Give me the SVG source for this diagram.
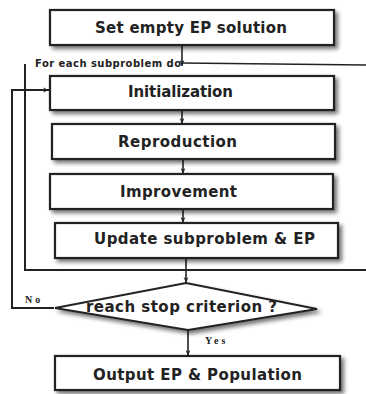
<svg xmlns="http://www.w3.org/2000/svg" width="366" height="394" viewBox="0 0 366 394">
<defs>
<filter id="sh" x="-10%" y="-20%" width="125%" height="160%">
<feGaussianBlur in="SourceAlpha" stdDeviation="2"/>
<feOffset dx="3" dy="3" result="b"/>
<feComponentTransfer><feFuncA type="linear" slope="0.55"/></feComponentTransfer>
<feMerge><feMergeNode/><feMergeNode in="SourceGraphic"/></feMerge>
</filter>
<marker id="ah" viewBox="0 0 10 10" refX="10" refY="5" markerWidth="6" markerHeight="6" orient="auto" markerUnits="userSpaceOnUse">
<path d="M0,1 L10,5 L0,9 L3,5 Z" fill="#222"/>
</marker>
</defs>
<style>
.box{fill:#fff;stroke:#222;stroke-width:2.2;filter:url(#sh)}
.lbl{font-family:"DejaVu Sans",sans-serif;font-weight:bold;font-size:15px;fill:#222;text-anchor:middle}
.sm{font-family:"DejaVu Sans",sans-serif;font-weight:bold;font-size:10px;fill:#222}
.yn{font-family:"Liberation Serif",serif;font-weight:bold;font-size:10px;fill:#222;letter-spacing:3px}
.ln{fill:none;stroke:#222;stroke-width:1.6}
.lt{fill:none;stroke:#222;stroke-width:2}
</style>
<rect width="366" height="394" fill="#fff"/>
<g id="connectors">
<line class="ln" x1="182" y1="45" x2="182" y2="66" marker-end="url(#ah)"/>
<line class="ln" x1="366" y1="65" x2="182" y2="63"/>
<polyline class="lt" points="25,64 25,270 366,270"/>
<line class="ln" x1="182" y1="110" x2="182" y2="124" marker-end="url(#ah)"/>
<line class="ln" x1="183" y1="159" x2="183" y2="174" marker-end="url(#ah)"/>
<line class="ln" x1="183" y1="209" x2="183" y2="223" marker-end="url(#ah)"/>
<line class="ln" x1="186" y1="258" x2="186" y2="283" marker-end="url(#ah)"/>
<line class="ln" x1="188" y1="330" x2="188" y2="356" marker-end="url(#ah)"/>
<polyline class="lt" points="54,308 12,308 12,90 49,90" marker-end="url(#ah)"/>
<text class="sm" x="35" y="67" textLength="146">For each subproblem do</text>
<text class="yn" x="25" y="303">No</text>
<text class="yn" x="205" y="344">Yes</text>
</g>
<g id="n1"><rect class="box" x="50" y="10" width="284" height="35"/><text class="lbl" x="191" y="33" textLength="192">Set empty EP solution</text></g>
<g id="n2"><rect class="box" x="50" y="76" width="284" height="34"/><text class="lbl" x="180.5" y="97" textLength="105">Initialization</text></g>
<g id="n3"><rect class="box" x="52" y="124" width="283" height="35"/><text class="lbl" x="177.5" y="147" textLength="119">Reproduction</text></g>
<g id="n4"><rect class="box" x="50" y="174" width="283" height="35"/><text class="lbl" x="178.5" y="197" textLength="117">Improvement</text></g>
<g id="n5"><rect class="box" x="55" y="223" width="283" height="35"/><text class="lbl" x="204.5" y="244" textLength="221">Update subproblem &amp; EP</text></g>
<g id="n6"><path class="box" d="M55,308 L186,283 L317,309 L188,330 Z" style="stroke-width:1.8"/><text class="lbl" x="181.5" y="312" textLength="191">reach stop criterion ?</text></g>
<g id="n7"><rect class="box" x="55" y="356" width="285" height="34"/><text class="lbl" x="197.5" y="380" textLength="209">Output EP &amp; Population</text></g>
</svg>
